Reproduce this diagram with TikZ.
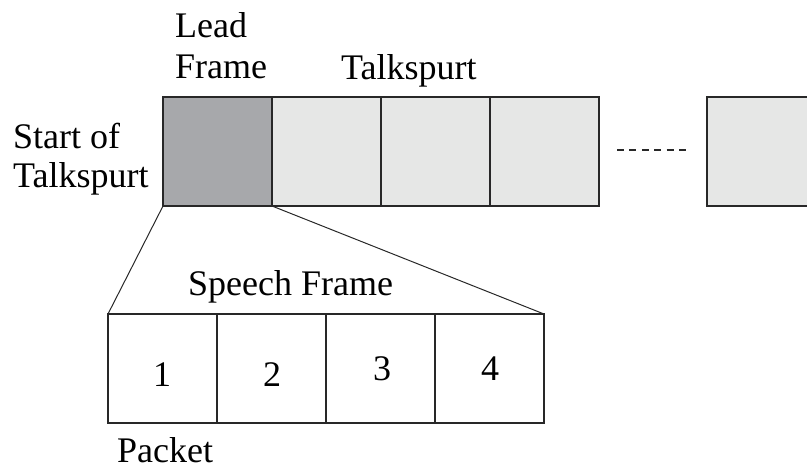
\documentclass[tikz,border=0pt]{standalone}
\usepackage{fontspec}
\setmainfont{Liberation Serif}
\newfontfamily\figserif{Liberation Serif}
\definecolor{leadgray}{RGB}{167,168,171}
\definecolor{framegray}{RGB}{230,231,230}
\definecolor{edgegray}{RGB}{40,40,40}
\begin{document}
\begin{tikzpicture}[x=1pt,y=-1pt,
  frame/.style={draw=edgegray,line width=1.2pt,fill=framegray,inner sep=0pt,outer sep=0pt,
    minimum width=109pt,minimum height=109pt,anchor=north west},
  leadbox/.style={frame,fill=leadgray},
  packetbox/.style={draw=edgegray,line width=1.2pt,fill=white,inner sep=0pt,outer sep=0pt,
    minimum width=109pt,minimum height=109pt,anchor=north west},
  label/.style={inner sep=0pt,anchor=base west,font=\figserif\fontsize{36}{40}\selectfont},
  link/.style={draw=edgegray,line width=1pt}]
\useasboundingbox (0,0) rectangle (807,472);
\clip (0,0) rectangle (807,472);

% talkspurt row
\node[leadbox] (lead) at (163,97) {};
\node[frame] (f2) at (lead.north east) {};
\node[frame] (f3) at (f2.north east) {};
\node[frame] (f4) at (f3.north east) {};
\node[frame] (fn) at (707,97) {};
\coordinate (dotsA) at (617,150);
\coordinate (dotsB) at (686,150);
\draw[edgegray,line width=1.2pt,dash pattern=on 7pt off 5.4pt] (dotsA) -- (dotsB);

% packet of speech frames
\node[packetbox] (p1) at (108,314) {};
\node[packetbox] (p2) at (p1.north east) {};
\node[packetbox] (p3) at (p2.north east) {};
\node[packetbox] (p4) at (p3.north east) {};
\node[label,anchor=base] (n1) at (162,386) {1};
\node[label,anchor=base] (n2) at (272,386) {2};
\node[label,anchor=base] (n3) at (382,380) {3};
\node[label,anchor=base] (n4) at (490,380) {4};

% expansion lines
\draw[link] (lead.south west) -- (p1.north west);
\draw[link] (lead.south east) -- (p4.north east);

% labels
\node[label] (leadA) at (175,37) {Lead};
\node[label] (leadB) at (175,78) {Frame};
\node[label] (talk) at (341,79) {Talkspurt};
\node[label] (startA) at (13,148) {Start of};
\node[label] (startB) at (13,187) {Talkspurt};
\node[label] (speech) at (188,295) {Speech Frame};
\node[label] (packet) at (117,462) {Packet};
\end{tikzpicture}
\end{document}
